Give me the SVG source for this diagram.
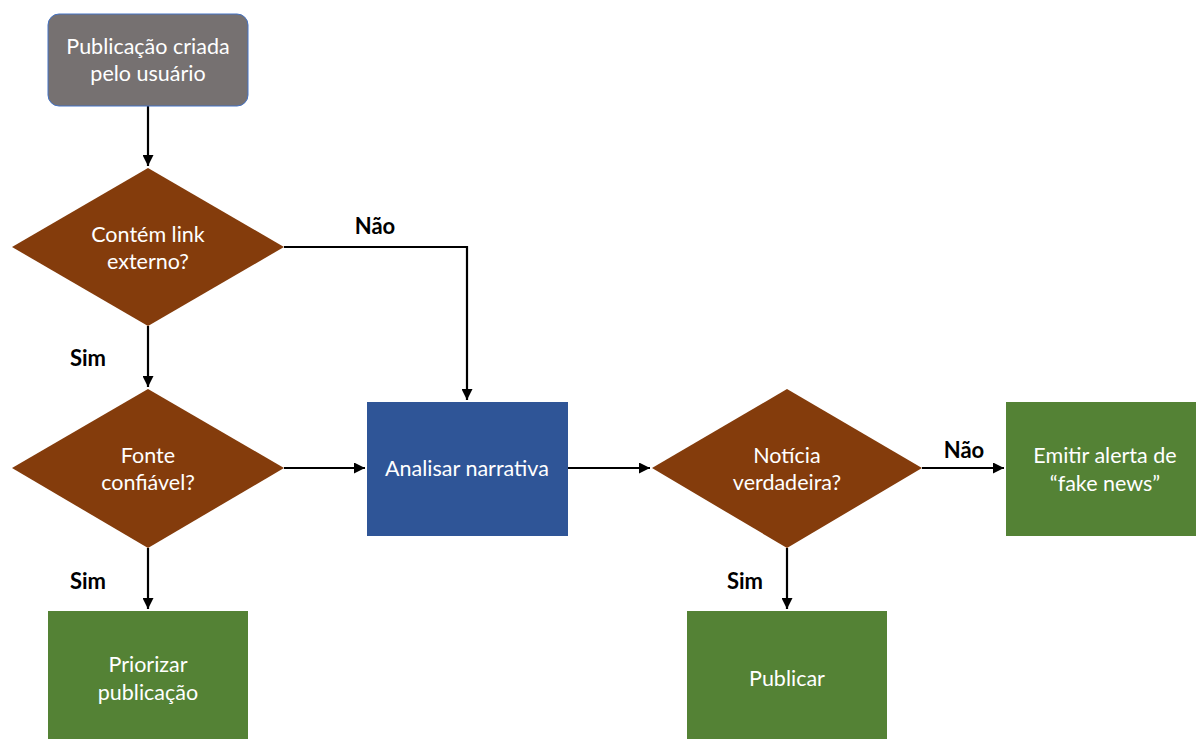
<svg xmlns="http://www.w3.org/2000/svg" width="1196" height="739" viewBox="0 0 1196 739">
<style>
.t{font-family:Lato,"Open Sans","Liberation Sans",sans-serif;font-size:21.5px;fill:#fff;text-anchor:middle}
.l{font-family:Lato,"Open Sans","Liberation Sans",sans-serif;font-size:22px;font-weight:bold;fill:#000;text-anchor:middle}
.c{fill:none;stroke:#000;stroke-width:2.2}
.dia{fill:#843C0C}
.grn{fill:#548235}
</style>
<defs>
<marker id="ah" viewBox="0 0 10 10" refX="10" refY="5" markerWidth="5" markerHeight="5" orient="auto" markerUnits="strokeWidth">
<path d="M0,0 L10,5 L0,10 z" fill="#000"/>
</marker>
</defs>
<rect width="1196" height="739" fill="#fff"/>
<g id="connectors">
<path class="c" d="M148,106 V166" marker-end="url(#ah)"/>
<path class="c" d="M148,326 V387" marker-end="url(#ah)"/>
<path class="c" d="M284,247 H467 V400" marker-end="url(#ah)"/>
<path class="c" d="M284,468 H365" marker-end="url(#ah)"/>
<path class="c" d="M148,548 V609" marker-end="url(#ah)"/>
<path class="c" d="M568,468 H650" marker-end="url(#ah)"/>
<path class="c" d="M922,468 H1004" marker-end="url(#ah)"/>
<path class="c" d="M787,548 V609" marker-end="url(#ah)"/>
<text class="l" x="375" y="234">Não</text>
<text class="l" x="88" y="366">Sim</text>
<text class="l" x="88" y="589">Sim</text>
<text class="l" x="964" y="458">Não</text>
<text class="l" x="745" y="589">Sim</text>
</g>
<g id="start">
<rect x="48" y="14" width="200" height="92" rx="11" fill="#767171" stroke="#4472C4" stroke-width="1"/>
<text class="t" x="148" y="54">Publicação criada</text>
<text class="t" x="148" y="81">pelo usuário</text>
</g>
<g id="d1">
<polygon class="dia" points="148,168 284,247 148,326 12,247"/>
<text class="t" x="148" y="242">Contém link</text>
<text class="t" x="148" y="269">externo?</text>
</g>
<g id="d2">
<polygon class="dia" points="148,389 284,468 148,548 12,468"/>
<text class="t" x="148" y="463">Fonte</text>
<text class="t" x="148" y="490">confiável?</text>
</g>
<g id="analisar">
<rect x="367" y="402" width="201" height="134" fill="#2F5597"/>
<text class="t" x="467" y="476">Analisar narrativa</text>
</g>
<g id="priorizar">
<rect class="grn" x="48" y="611" width="200" height="130"/>
<text class="t" x="148" y="672">Priorizar</text>
<text class="t" x="148" y="700">publicação</text>
</g>
<g id="d3">
<polygon class="dia" points="787,389 922,468 787,548 652,468"/>
<text class="t" x="787" y="463">Notícia</text>
<text class="t" x="787" y="490">verdadeira?</text>
</g>
<g id="emitir">
<rect class="grn" x="1006" y="402" width="192" height="134"/>
<text class="t" x="1105" y="463">Emitir alerta de</text>
<text class="t" x="1105" y="491">“fake news”</text>
</g>
<g id="publicar">
<rect class="grn" x="687" y="611" width="200" height="130"/>
<text class="t" x="787" y="686">Publicar</text>
</g>
</svg>
